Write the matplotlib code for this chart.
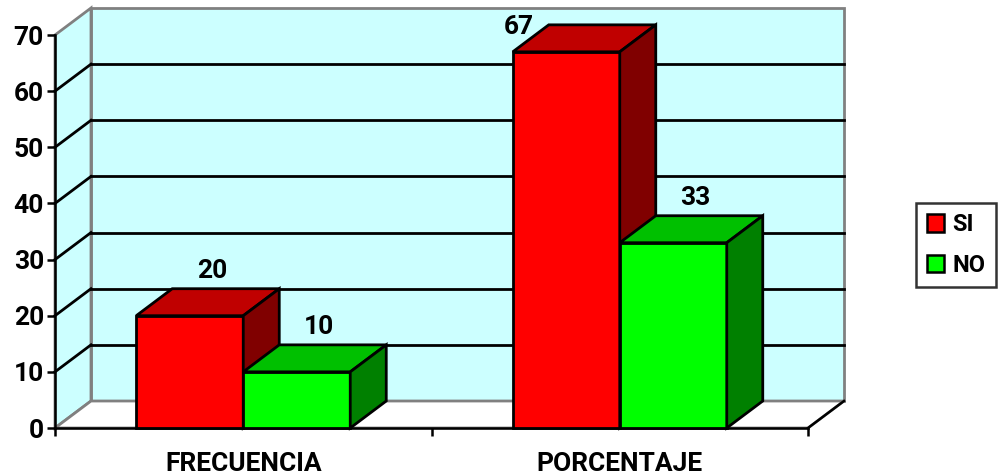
import matplotlib
matplotlib.use("Agg")
import matplotlib.pyplot as plt
from matplotlib.patches import Polygon, Patch
from matplotlib.lines import Line2D

# ---- data ----
categories = ["FRECUENCIA", "PORCENTAJE"]
series_names = ["SI", "NO"]
si_values = [20, 67]
no_values = [10, 33]
y_ticks = [0, 10, 20, 30, 40, 50, 60, 70]

# ---- styling ----
FONT = "Roboto"
front_colors = {"SI": "#FF0000", "NO": "#00FF00"}
top_colors = {"SI": "#C00000", "NO": "#00C000"}
side_colors = {"SI": "#800000", "NO": "#008000"}
WALL = "#CCFFFF"
EDGE_GRAY = "#808080"

W_PX, H_PX, DPI = 1002, 476, 100
fig = plt.figure(figsize=(W_PX / DPI, H_PX / DPI), dpi=DPI)

# plot area (front plane) in pixels
left_px, right_px = 55, 808
bottom_px, top_px = 428, 35
ax = fig.add_axes([left_px / W_PX, 1 - bottom_px / H_PX,
                   (right_px - left_px) / W_PX, (bottom_px - top_px) / H_PX])
ymax = 70
ncat = len(categories)
ax.set_xlim(0, ncat)
ax.set_ylim(0, ymax)
ax.set_facecolor("none")

# depth offset of the 3-D projection, converted to data units
DEPTH_X_PX, DEPTH_Y_PX = 36, 27
dx = DEPTH_X_PX * ncat / (right_px - left_px)
dy = DEPTH_Y_PX * ymax / (bottom_px - top_px)
px_x = ncat / (right_px - left_px)
px_y = ymax / (bottom_px - top_px)


def poly(pts, fc, ec, lw, z):
    ax.add_patch(Polygon(pts, closed=True, facecolor=fc, edgecolor=ec,
                         linewidth=lw, zorder=z, clip_on=False,
                         joinstyle="miter"))


# walls and floor
poly([(dx, dy), (ncat + dx, dy), (ncat + dx, ymax + dy), (dx, ymax + dy)],
     WALL, EDGE_GRAY, 2, 0.5)
poly([(0, 0), (dx, dy), (dx, ymax + dy), (0, ymax)], WALL, EDGE_GRAY, 2, 0.5)
poly([(0, 0), (ncat, 0), (ncat + dx, dy), (dx, dy)], "white", EDGE_GRAY, 2, 0.5)

# gridlines on back and side walls
for v in y_ticks[1:-1]:
    ax.add_line(Line2D([dx, ncat + dx], [v + dy, v + dy], color="black",
                       lw=2, zorder=0.8, clip_on=False))
    ax.add_line(Line2D([0, dx], [v, v + dy], color="black",
                       lw=2, zorder=0.8, clip_on=False))
# right floor edge
ax.add_line(Line2D([ncat, ncat + dx], [0, dy], color="black", lw=1.8,
                   zorder=0.9, clip_on=False))

# bars
bar_w = 107 * px_x
values = {"SI": si_values, "NO": no_values}
for i in range(ncat):
    center = i + 0.5
    for j, name in enumerate(series_names):
        v = values[name][i]
        x0 = center - bar_w + j * bar_w
        x1 = x0 + bar_w
        z = 2 + i + j * 0.1
        poly([(x0, 0), (x1, 0), (x1, v), (x0, v)], front_colors[name], "black", 2, z)
        poly([(x0, v), (x1, v), (x1 + dx, v + dy), (x0 + dx, v + dy)],
             top_colors[name], "black", 2, z)
        poly([(x1, 0), (x1 + dx, dy), (x1 + dx, v + dy), (x1, v)],
             side_colors[name], "black", 2, z)
        # value label above the bar top (moved beside it near the top edge)
        lx, ly = (x0 + x1) / 2 + dx / 2 + 4 * px_x, v + dy + 18 * px_y
        if ly > ymax + dy - 2:
            lx, ly = x0 + 6 * px_x, v + 25 * px_y
        ax.text(lx, ly, f"{v}", ha="center", va="center", fontsize=19,
                fontweight="bold", family=FONT, zorder=10, clip_on=False)

# axes
for s in ("top", "right"):
    ax.spines[s].set_visible(False)
for s in ("left", "bottom"):
    ax.spines[s].set_color("black")
    ax.spines[s].set_linewidth(1.8)
    ax.spines[s].set_zorder(1.5)
ax.set_yticks(y_ticks)
ax.set_yticklabels([str(t) for t in y_ticks], fontsize=19, fontweight="bold",
                   family=FONT)
ax.tick_params(axis="y", length=6, width=1.8, pad=2, color="black")
ax.set_xticks(range(ncat + 1))
ax.set_xticklabels([""] * (ncat + 1))
ax.tick_params(axis="x", which="major", length=6, width=1.8, color="black")
ax.set_xticks([i + 0.5 for i in range(ncat)], minor=True)
ax.set_xticklabels(categories, minor=True, fontsize=19, fontweight="bold",
                   family=FONT)
ax.tick_params(axis="x", which="minor", length=0, pad=17)

# legend
handles = [Patch(facecolor=front_colors[n], edgecolor="black", linewidth=1.8,
                 label=n) for n in series_names]
leg = fig.legend(handles=handles, loc="center left",
                 bbox_to_anchor=(916 / W_PX, 1 - 245 / H_PX),
                 frameon=True, fancybox=False, handlelength=0.75,
                 handleheight=0.75, handletextpad=0.35, labelspacing=0.75,
                 borderpad=0.45, borderaxespad=0,
                 prop={"family": FONT, "weight": "bold", "size": 17})
leg.get_frame().set_edgecolor("black")
leg.get_frame().set_linewidth(1.8)

fig.savefig("out.png", dpi=DPI)
